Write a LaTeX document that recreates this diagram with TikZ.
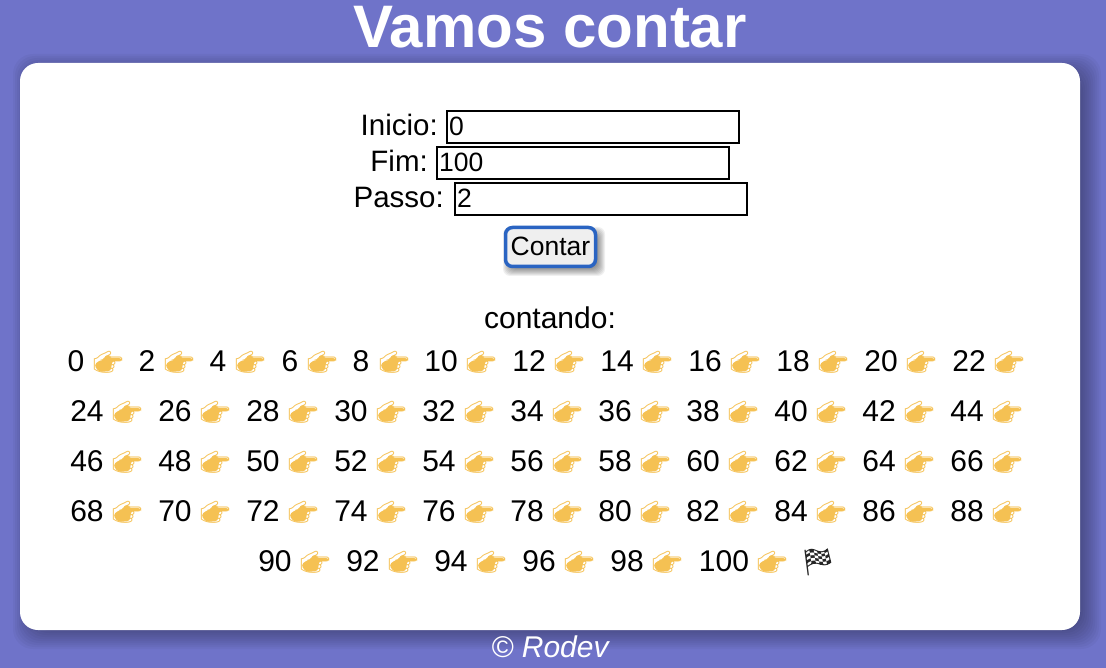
\documentclass[tikz,border=0pt]{standalone}
\usepackage{fontspec}
\setmainfont{Liberation Sans}
\newfontfamily\emojifont{Noto Emoji}
\definecolor{pagecolor}{HTML}{6F73C9}
\definecolor{btnblue}{HTML}{2A64C2}
\definecolor{btnfill}{HTML}{EFEFEF}
\definecolor{handgold}{HTML}{F5C153}
\tikzset{
  txt/.style={font=\fontsize{30}{30}\selectfont, inner sep=0pt, text height=21pt, text depth=0pt},
  lbl/.style={txt, font=\fontsize{29.5}{29.5}\selectfont, anchor=east},
  val/.style={font=\fontsize{26.5}{26.5}\selectfont, inner sep=0pt, anchor=west, text height=19pt, text depth=0pt},
  inbox/.style={draw=black, line width=2pt, fill=white},
  hand/.style={font=\fontsize{24}{24}\emojifont, text=handgold, inner sep=0pt},
  pics/handfill/.style={code={
    \fill[handgold, rounded corners=3pt] (-14,3) -- (-8,-2) -- (-5,-2) -- (-2,-7) -- (3,-7) -- (1,-4) -- (14,-4) -- (14,-1) -- (4,-1) -- (3,9) -- (-9,10) -- cycle;
  }},
}
\begin{document}
\begin{tikzpicture}[x=1pt, y=-1pt]
\useasboundingbox (0,0) rectangle (1106,668);
% Page background
\fill[pagecolor] (0,0) rectangle (1106,668);
\node[font=\fontsize{60}{60}\selectfont\bfseries, white, inner sep=0pt] (title) at (550,27) {Vamos contar};

% Panel with its shadow
\foreach \s in {-12,-10,...,14} {
  \fill[black, opacity=0.033, rounded corners=20pt] ({27-\s},{68-\s}) rectangle ({1087+\s},{635+\s});
}
\fill[white, rounded corners=18pt] (20,63) rectangle (1080,630);

% Form fields
\foreach \name/\txt/\lx/\bx/\y/\v in {
  inicio/Inicio:/438/447/127/0,
  fim/Fim:/428/437/163/100,
  passo/Passo:/444/455/199/2
} {
  \node[lbl] (lbl\name) at (\lx,\y-1.5) {\txt};
  \draw[inbox] (\bx,\y-16) rectangle (\bx+292,\y+16);
  \node[val] (val\name) at (\bx+2,\y-1) {\v};
}

% Button
\foreach \s in {-4,-3,...,5} {
  \fill[black, opacity=0.06, rounded corners=7pt] ({508-\s},{232-\s}) rectangle ({600+\s},{271+\s});
}
\draw[btnblue, line width=3.5pt, fill=btnfill, rounded corners=7pt] (505.5,227.5) rectangle (595.5,266.5);
\node[val, anchor=center] (contar) at (550.5,246) {Contar};

\node[txt] (contando) at (550,318) {contando:};

% First row
\foreach \x/\hx/\n in {
  76/108/0, 147/179/2, 218/250/4, 290/322/6, 361/394/8, 441/481/10,
  529/569/12, 617/657/14, 705/745/16, 793/833/18, 881/921/20, 969/1009/22
} {
  \node[txt] (n\n) at (\x,361) {\n};
  \pic at (\hx,362) {handfill};
  \node[hand] (h\n) at (\hx,362) {👉};
}
% Middle rows
\foreach \y/\a in {411/24, 461/46, 511/68} {
  \foreach \i in {0,...,10} {
    \pgfmathtruncatemacro{\n}{\a+2*\i}
    \node[txt] (n\n) at ({87+88*\i},\y) {\n};
    \pic at ({127+88*\i},\y+1) {handfill};
    \node[hand] (h\n) at ({127+88*\i},\y+1) {👉};
  }
}
% Last row
\foreach \x/\hx/\n in {
  275/315/90, 363/403/92, 451/491/94, 539/579/96, 627/667/98, 724/772/100
} {
  \node[txt] (n\n) at (\x,561) {\n};
  \pic at (\hx,562) {handfill};
  \node[hand] (h\n) at (\hx,562) {👉};
}
\node[hand, font=\fontsize{27}{27}\emojifont, text=black!85] (flag) at (818,562) {🏁};

\node[font=\fontsize{30}{30}\selectfont\itshape, white, inner sep=0pt] (rodev) at (550,647) {© Rodev};
\end{tikzpicture}
\end{document}
